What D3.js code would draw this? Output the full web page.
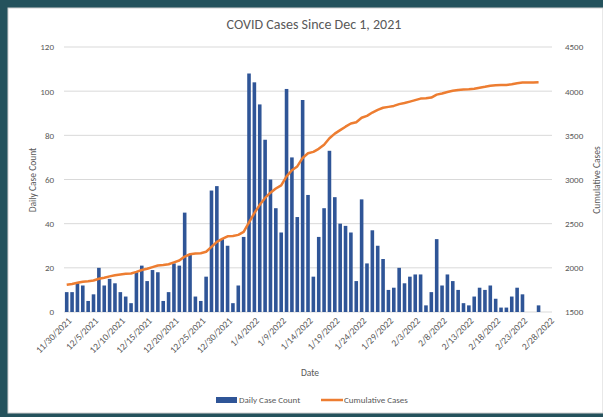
<!DOCTYPE html>
<html>
<head>
<meta charset="utf-8">
<script src="https://cdn.jsdelivr.net/npm/d3@7"></script>
<style>
  body { margin: 0; background: #24525c; }
  text { font-family: Calibri, Carlito, "Liberation Sans", Arial, sans-serif; fill: #595959; }
</style>
</head>
<body>
<div id="chart"></div>
<script>
// daily counts, 11/30/2021 .. 2/28/2022
var dailyCases = [9, 9, 13, 12, 5, 8, 20, 12, 15, 13,
    9, 7, 4, 18, 21, 14, 19, 18, 5, 9,
    22, 21, 45, 26, 7, 5, 16, 55, 57, 33,
    30, 4, 12, 34, 108, 104, 94, 78, 60, 47,
    36, 101, 70, 43, 96, 53, 16, 34, 47, 73,
    52, 40, 39, 36, 14, 51, 22, 37, 30, 24,
    10, 11, 20, 13, 16, 17, 17, 3, 9, 33,
    12, 17, 14, 10, 4, 3, 7, 11, 10, 12,
    6, 2, 2, 7, 11, 8, 0, 0, 3, null, null];

// cumulative line
var cumulativeCases = [1809, 1818, 1831, 1843, 1848, 1856, 1876, 1888, 1903, 1916,
    1925, 1932, 1936, 1954, 1975, 1989, 2008, 2026, 2031, 2040,
    2062, 2083, 2128, 2154, 2161, 2166, 2182, 2237, 2294, 2327,
    2357, 2361, 2373, 2407, 2515, 2619, 2713, 2791, 2851, 2898,
    2934, 3035, 3105, 3148, 3244, 3297, 3313, 3347, 3394, 3467,
    3519, 3559, 3598, 3634, 3648, 3699, 3721, 3758, 3788, 3812,
    3822, 3833, 3853, 3866, 3882, 3899, 3916, 3919, 3928, 3961,
    3973, 3990, 4004, 4014, 4018, 4021, 4028, 4039, 4049, 4061,
    4067, 4069, 4071, 4078, 4089, 4097, 4097, 4097, 4100, null, null];

var dates = d3.timeDay.range(new Date(2021, 10, 30), new Date(2022, 2, 1));

var tickLabels = ["11/30/2021", "12/5/2021", "12/10/2021", "12/15/2021", "12/20/2021",
    "12/25/2021", "12/30/2021", "1/4/2022", "1/9/2022", "1/14/2022", "1/19/2022",
    "1/24/2022", "1/29/2022", "2/3/2022", "2/8/2022", "2/13/2022", "2/18/2022",
    "2/23/2022", "2/28/2022"];

var leftTicks = [0, 20, 40, 60, 80, 100, 120];
var rightTicks = [1500, 2000, 2500, 3000, 3500, 4000, 4500];

var svgWidth = 603;
var svgHeight = 417;

var data = dates.map((d, i) => ({ date: d, daily: dailyCases[i], cum: cumulativeCases[i] }));

var svg = d3.select("#chart")
    .append("svg")
    .attr("width", svgWidth)
    .attr("height", svgHeight)
    .style("display", "block");

svg.append("rect")
    .attr("width", svgWidth).attr("height", svgHeight)
    .attr("fill", "#24525c");

svg.append("rect")
    .attr("x", 8).attr("y", 8)
    .attr("width", svgWidth - 8).attr("height", 405)
    .attr("fill", "#ffffff")
    .attr("stroke", "#d0d0d0");

var xScale = d3.scaleBand()
    .domain(dates)
    .range([64, 552])
    .paddingInner(0.33)
    .paddingOuter(0.17);

var yLeft = d3.scaleLinear().domain([0, 120]).range([312, 47]);
var yRight = d3.scaleLinear().domain([1500, 4500]).range([312, 47]);

// gridlines
svg.append("g")
    .selectAll("line")
    .data(leftTicks)
    .enter()
    .append("line")
    .attr("x1", 64).attr("x2", 552)
    .attr("y1", d => yLeft(d)).attr("y2", d => yLeft(d))
    .attr("stroke", "#d9d9d9")
    .attr("stroke-width", 1);

// left axis
var leftAxis = svg.append("g")
    .attr("transform", "translate(58,0)")
    .call(d3.axisLeft(yLeft).tickValues(leftTicks).tickSize(0).tickPadding(4));
leftAxis.select(".domain").remove();
leftAxis.selectAll("text").style("font-size", "9px").attr("fill", "#595959");

// right axis
var rightAxis = svg.append("g")
    .attr("transform", "translate(561,0)")
    .call(d3.axisRight(yRight).tickValues(rightTicks).tickFormat(d3.format("d")).tickSize(0).tickPadding(4));
rightAxis.select(".domain").remove();
rightAxis.selectAll("text").style("font-size", "9px").attr("fill", "#595959");

// bars
svg.append("g")
    .selectAll("rect")
    .data(data.filter(d => d.daily != null))
    .enter()
    .append("rect")
    .attr("x", d => xScale(d.date))
    .attr("width", xScale.bandwidth())
    .attr("y", d => yLeft(d.daily))
    .attr("height", d => yLeft(0) - yLeft(d.daily))
    .attr("fill", "#2f5597");

// cumulative line
var line = d3.line()
    .defined(d => d.cum != null)
    .x(d => xScale(d.date) + xScale.bandwidth() / 2)
    .y(d => yRight(d.cum));

svg.append("path")
    .datum(data)
    .attr("d", line)
    .attr("fill", "none")
    .attr("stroke", "#ed7d31")
    .attr("stroke-width", 2.5)
    .attr("stroke-linejoin", "round");

// x tick labels every 5 days
var tickDates = dates.filter((d, i) => i % 5 == 0);
svg.append("g")
    .selectAll("text")
    .data(tickDates)
    .enter()
    .append("text")
    .attr("transform", (d, i) => `translate(${xScale(d) + xScale.bandwidth() / 2 + 3}, 319) rotate(-45)`)
    .attr("text-anchor", "end")
    .attr("dy", "0.35em")
    .style("font-size", "9.5px")
    .text((d, i) => tickLabels[i]);

// titles
svg.append("text")
    .attr("x", 314).attr("y", 29)
    .attr("text-anchor", "middle")
    .style("font-size", "14px")
    .text("COVID Cases Since Dec 1, 2021");

svg.append("text")
    .attr("transform", "translate(36,180) rotate(-90)")
    .attr("text-anchor", "middle")
    .style("font-size", "9.5px")
    .text("Daily Case Count");

svg.append("text")
    .attr("transform", "translate(600,180) rotate(-90)")
    .attr("text-anchor", "middle")
    .style("font-size", "9.5px")
    .text("Cumulative Cases");

svg.append("text")
    .attr("x", 310).attr("y", 376)
    .attr("text-anchor", "middle")
    .style("font-size", "9.5px")
    .text("Date");

// legend
var legend = svg.append("g");
legend.append("rect")
    .attr("x", 216).attr("y", 397)
    .attr("width", 21).attr("height", 6)
    .attr("fill", "#2f5597");
legend.append("text")
    .attr("x", 239).attr("y", 403)
    .style("font-size", "9px")
    .text("Daily Case Count");
legend.append("line")
    .attr("x1", 321).attr("x2", 343)
    .attr("y1", 400).attr("y2", 400)
    .attr("stroke", "#ed7d31")
    .attr("stroke-width", 2.5);
legend.append("text")
    .attr("x", 344).attr("y", 403)
    .style("font-size", "9px")
    .text("Cumulative Cases");
</script>
</body>
</html>
